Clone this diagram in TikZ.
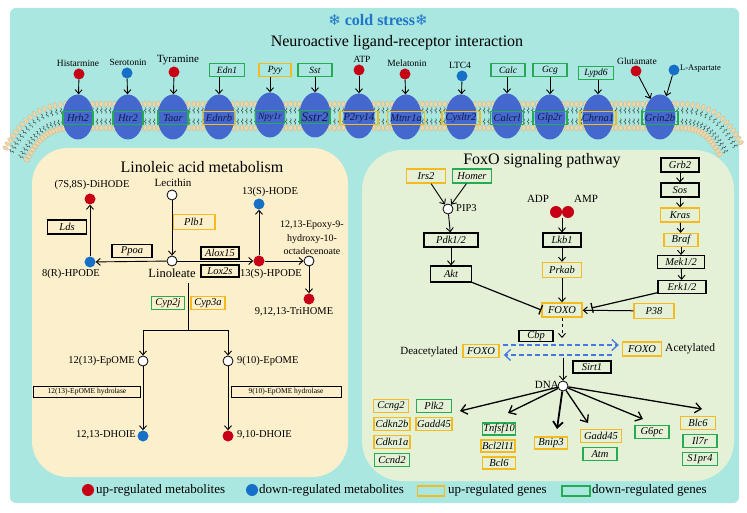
\documentclass[tikz,border=0pt]{standalone}
\usepackage{fontspec}
\setmainfont{Liberation Serif}
\newfontfamily\symfont{DejaVu Sans}
\usetikzlibrary{arrows.meta,decorations.markings,calc,shapes.geometric}
\definecolor{bgcyan}{RGB}{170,231,225}
\definecolor{cream}{RGB}{252,239,203}
\definecolor{palegreen}{RGB}{229,241,215}
\definecolor{upred}{RGB}{200,0,22}
\definecolor{downblue}{RGB}{22,112,200}
\definecolor{recblue}{RGB}{68,104,205}
\definecolor{upor}{RGB}{245,186,30}
\definecolor{dngr}{RGB}{38,170,82}
\definecolor{titleblue}{RGB}{30,118,200}
\definecolor{lipid}{RGB}{238,214,168}
\definecolor{lipidedge}{RGB}{200,175,130}
\definecolor{tailc}{RGB}{60,80,70}
\definecolor{dashblue}{RGB}{70,120,225}
\definecolor{navy}{RGB}{20,25,70}
\tikzset{
 upc/.style={circle,fill=upred,minimum size=11,inner sep=0},
 dnc/.style={circle,fill=downblue,minimum size=11,inner sep=0},
 opc/.style={circle,draw=black,fill=white,line width=0.8pt,minimum size=10,inner sep=0},
 lbl/.style={inner sep=0,font=\fontsize{10}{12}\selectfont},
 slbl/.style={inner sep=0,font=\fontsize{9.5}{11}\selectfont},
 gbase/.style={draw,line width=1.4pt,minimum height=13,minimum width=35,inner sep=1pt,font=\fontsize{10.5}{12}\selectfont\itshape},
 upg/.style={gbase,draw=upor},
 dng/.style={gbase,draw=dngr},
 blk/.style={gbase,draw=black,line width=1.2pt},
 rlab/.style={text=navy},
 receptor/.style={ellipse,fill=recblue,minimum width=31,minimum height=45,inner sep=0},
 arr/.style={-{Straight Barb[length=4pt,width=7pt]},line width=0.9pt},
 barr/.style={-{Straight Barb[length=6pt,width=10pt]},line width=1.3pt},
 inh/.style={-{Bar[width=10pt,line width=1.3pt]},line width=1.2pt},
 bdash/.style={-{Straight Barb[length=6pt,width=11pt]},line width=1.3pt,draw=dashblue,dash pattern=on 5pt off 3pt},
}
\begin{document}
\begin{tikzpicture}[x=1pt,y=-1pt]
\useasboundingbox (0,0) rectangle (747,513);
% backgrounds
\fill[bgcyan,rounded corners=6] (10,8) rectangle (739,503);
\fill[cream,rounded corners=36] (32,148) rectangle (348,477);
\fill[palegreen,rounded corners=40] (362,150) rectangle (734,481);

% titles
\node[font=\bfseries\fontsize{16}{18}\selectfont,text=titleblue] (ttl) at (378,20) {{\symfont\fontsize{15}{17}\selectfont ❄} cold stress{\symfont\fontsize{15}{17}\selectfont ❄}};
\node[font=\fontsize{16}{18}\selectfont] (nlr) at (397,43) {Neuroactive ligand-receptor interaction};

% membrane
\path[decorate,decoration={markings,mark=between positions 0 and 1 step 4.4pt with {
  \draw[tailc,line width=0.5pt] (0pt,8.5pt) -- (0.9pt,7pt) -- (-0.9pt,5.5pt) -- (0.9pt,4pt) -- (0pt,2.5pt);
  \draw[tailc,line width=0.5pt] (0pt,-8.5pt) -- (0.9pt,-7pt) -- (-0.9pt,-5.5pt) -- (0.9pt,-4pt) -- (0pt,-2.5pt);
  \filldraw[fill=lipid,draw=lipidedge,line width=0.2pt] (0pt,12pt) ellipse [x radius=1.8pt,y radius=3.2pt];
  \filldraw[fill=lipid,draw=lipidedge,line width=0.2pt] (0pt,-12pt) ellipse [x radius=1.8pt,y radius=3.2pt];
}}] (16,154) .. controls (32,126) and (46,116) .. (72,116) -- (680,116) .. controls (706,116) and (718,126) .. (732,152);

% receptors
\node[receptor] (rHrh2) at (78,117) {};
\node[receptor] (rHtr2) at (128,117) {};
\node[receptor] (rTaar) at (173,117) {};
\node[receptor] (rEdnrb) at (219,117) {};
\node[receptor] (rNpy1r) at (270,115) {};
\node[receptor] (rSstr2) at (315,115) {};
\node[receptor] (rP2ry14) at (359,116) {};
\node[receptor] (rMtnr1a) at (406,117) {};
\node[receptor] (rCysltr2) at (461,117) {};
\node[receptor] (rCalcrl) at (507,116) {};
\node[receptor] (rGlp2r) at (550,117) {};
\node[receptor] (rChrna1) at (598,117) {};
\node[receptor] (rGrin2b) at (660,117) {};
\node[dng,rlab,minimum width=30] (Hrh2) at (78,118) {Hrh2};
\node[dng,rlab,minimum width=30] (Htr2) at (128,118) {Htr2};
\node[dng,rlab,minimum width=30] (Taar) at (173,118) {Taar};
\node[upg,rlab,minimum width=33] (Ednrb) at (219,118) {Ednrb};
\node[dng,rlab,minimum width=29,font=\fontsize{9.5}{11}\selectfont\itshape] (Npy1r) at (270,117) {Npy1r};
\node[dng,rlab,minimum width=30,font=\fontsize{13}{14}\selectfont\itshape] (Sstr2) at (315,117) {Sstr2};
\node[upg,rlab,minimum width=38] (P2ry14) at (359,118) {P2ry14};
\node[upg,rlab,minimum width=37] (Mtnr1a) at (406,118) {Mtnr1a};
\node[upg,rlab,minimum width=38] (Cysltr2) at (461,118) {Cysltr2};
\node[dng,rlab,minimum width=33] (Calcrl) at (507,118) {Calcrl};
\node[dng,rlab,minimum width=34] (Glp2r) at (550,118) {Glp2r};
\node[upg,rlab,minimum width=36] (Chrna1) at (598,118) {Chrna1};
\node[dng,rlab,minimum width=36] (Grin2b) at (660,118) {Grin2b};

% ligands
\node[upc] (lHis) at (79,74) {};
\node[slbl] (tHis) at (78,63) {Histarmine};
\node[dnc] (lSer) at (127,73) {};
\node[slbl] (tSer) at (128,62) {Serotonin};
\node[upc] (lTyr) at (174,72) {};
\node[lbl,font=\fontsize{11}{12}\selectfont] (tTyr) at (178,60) {Tyramine};
\node[dng,minimum width=35,minimum height=13,font=\fontsize{9.5}{11}\selectfont\itshape] (Edn1) at (227,70) {Edn1};
\node[upg,minimum width=32,minimum height=13,font=\fontsize{9.5}{11}\selectfont\itshape] (Pyy) at (275,70) {Pyy};
\node[dng,minimum width=34,minimum height=13,font=\fontsize{9.5}{11}\selectfont\itshape] (Sst) at (315,70) {Sst};
\node[upc] (lATP) at (359,70) {};
\node[slbl] (tATP) at (362,59) {ATP};
\node[upc] (lMel) at (405,74) {};
\node[slbl] (tMel) at (407,63) {Melatonin};
\node[dnc] (lLTC) at (462,76) {};
\node[slbl] (tLTC) at (460,65) {LTC4};
\node[dng,minimum width=34,minimum height=13,font=\fontsize{9.5}{11}\selectfont\itshape] (Calc) at (508,70) {Calc};
\node[dng,minimum width=34,minimum height=13,font=\fontsize{9.5}{11}\selectfont\itshape] (Gcg) at (550,70) {Gcg};
\node[dng,minimum width=35,minimum height=13,font=\fontsize{9.5}{11}\selectfont\itshape] (Lypd6) at (596,73) {Lypd6};
\node[upc] (lGlu) at (636,71) {};
\node[slbl] (tGlu) at (637,61) {Glutamate};
\node[dnc] (lAsp) at (674,70) {};
\node[slbl,anchor=west,font=\fontsize{8.5}{10}\selectfont] (tAsp) at (680,69) {L-Aspartate};

\draw[arr] (lHis) -- (rHrh2);
\draw[arr] (lSer) -- (rHtr2);
\draw[arr] (lTyr) -- (rTaar);
\draw[arr] (Edn1.south -| rEdnrb) -- (rEdnrb);
\draw[arr] (Pyy.south -| rNpy1r) -- (rNpy1r);
\draw[arr] (Sst.south -| rSstr2) -- (rSstr2);
\draw[arr] (lATP) -- (rP2ry14);
\draw[arr] (lMel) -- (rMtnr1a);
\draw[arr] (lLTC) -- (rCysltr2);
\draw[arr] (Calc.south -| rCalcrl) -- (rCalcrl);
\draw[arr] (Gcg.south -| rGlp2r) -- (rGlp2r);
\draw[arr] (Lypd6.south -| rChrna1) -- (rChrna1);
\draw[arr] (lGlu) -- (rGrin2b);
\draw[arr] (lAsp) -- (rGrin2b);

% ================= Linoleic acid metabolism
\node[font=\fontsize{16}{18}\selectfont] (tLin) at (202,167) {Linoleic acid metabolism};
\node[lbl,font=\fontsize{10.5}{12}\selectfont] (tDih) at (92,185) {(7S,8S)-DiHODE};
\node[upc] (dih) at (90,199) {};
\node[blk,minimum width=39,minimum height=14] (Lds) at (67,227) {Lds};
\node[dnc] (hp8) at (90,262) {};
\node[lbl,font=\fontsize{10.5}{12}\selectfont] (thp8) at (71,274) {8(R)-HPODE};
\node[lbl,font=\fontsize{11}{12}\selectfont] (tLec) at (173,183) {Lecithin};
\node[opc] (lec) at (172,195) {};
\node[upg,minimum width=42,minimum height=15] (Plb1) at (194,222) {Plb1};
\node[blk,minimum width=40,minimum height=13] (Ppoa) at (132,251) {Ppoa};
\node[opc] (lin) at (172,261) {};
\node[lbl,font=\fontsize{12.5}{14}\selectfont] (tLinol) at (172,273) {Linoleate};
\node[blk,minimum width=38,minimum height=12] (Alox15) at (220,253) {Alox15};
\node[blk,minimum width=38,minimum height=12] (Lox2s) at (220,271) {Lox2s};
\node[upc] (hp13) at (259,261) {};
\node[lbl,font=\fontsize{10.5}{12}\selectfont] (thp13) at (271,274) {13(S)-HPODE};
\node[dnc] (hode) at (259,204) {};
\node[lbl,font=\fontsize{10.5}{12}\selectfont] (thode) at (270,192) {13(S)-HODE};
\node[opc] (epx) at (309,261) {};
\node[lbl,align=center,font=\fontsize{10}{13.5}\selectfont] (tepx) at (312,238) {12,13-Epoxy-9-\\hydroxy-10-\\octadecenoate};
\node[upc] (tri) at (309,299) {};
\node[lbl,font=\fontsize{10.5}{12}\selectfont] (ttri) at (294,312) {9,12,13-TriHOME};
\node[dng,minimum width=33,minimum height=13] (Cyp2j) at (168,303) {Cyp2j};
\node[upg,minimum width=34,minimum height=13] (Cyp3a) at (208,303) {Cyp3a};
\coordinate (lv0) at (188,283);
\coordinate (lv1) at (188,330);
\coordinate (lbL) at (143,330);
\coordinate (lbR) at (228,330);
\node[opc] (ep12) at (143,361) {};
\node[opc] (ep9) at (228,361) {};
\node[lbl,font=\fontsize{10.5}{12}\selectfont,anchor=east] (tep12) at (135,361) {12(13)-EpOME};
\node[lbl,font=\fontsize{10.5}{12}\selectfont,anchor=west] (tep9) at (237,361) {9(10)-EpOME};
\node[gbase,draw=black,line width=1pt,minimum width=107,minimum height=11,font=\fontsize{7.5}{8}\selectfont] (hyd12) at (87,392) {12(13)-EpOME hydrolase};
\node[gbase,draw=black,line width=1pt,minimum width=110,minimum height=11,font=\fontsize{7.5}{8}\selectfont] (hyd9) at (286,392) {9(10)-EpOME hydrolase};
\node[dnc] (dh12) at (143,436) {};
\node[upc] (dh9) at (228,436) {};
\node[lbl,font=\fontsize{10.5}{12}\selectfont,anchor=east] (tdh12) at (136,435) {12,13-DHOIE};
\node[lbl,font=\fontsize{10.5}{12}\selectfont,anchor=west] (tdh9) at (237,435) {9,10-DHOIE};

\draw[arr] (hp8) -- (dih);
\draw[arr] (lec) -- (lin);
\draw[arr] (lin) -- (hp8);
\draw[arr] (lin) -- (hp13);
\draw[arr] (hp13) -- (hode);
\draw[arr] (hp13) -- (epx);
\draw[arr] (epx) -- (tri);
\draw[line width=0.9pt] (lv0) -- (lv1);
\draw[line width=0.9pt] (lbL) -- (lbR);
\draw[arr] (lbL) -- (ep12);
\draw[arr] (lbR) -- (ep9);
\draw[arr] (ep12) -- (dh12);
\draw[arr] (ep9) -- (dh9);

% ================= FoxO
\node[font=\fontsize{16}{18}\selectfont] (tFox) at (542,161) {FoxO signaling pathway};
\node[upg,minimum width=39,minimum height=14] (Irs2) at (426,176) {Irs2};
\node[dng,minimum width=39,minimum height=14] (Homer) at (472,176) {Homer};
\node[opc] (pip3) at (448,209) {};
\node[lbl,anchor=west,font=\fontsize{10.5}{12}\selectfont] (tpip) at (456,208) {PIP3};
\node[blk,minimum width=54,minimum height=14] (Pdk) at (451,240) {Pdk1/2};
\node[blk,minimum width=41,minimum height=16] (Akt) at (451,274) {Akt};
\node[lbl,font=\fontsize{11}{12}\selectfont] (tADP) at (538,199) {ADP};
\node[lbl,font=\fontsize{11}{12}\selectfont] (tAMP) at (586,199) {AMP};
\node[upc,minimum size=12] (adp) at (556,212) {};
\node[upc,minimum size=12] (amp) at (568,212) {};
\coordinate (pair) at (562,218);
\node[blk,minimum width=38,minimum height=14] (Lkb1) at (562,240) {Lkb1};
\node[upg,minimum width=39,minimum height=15] (Prkab) at (562,270) {Prkab};
\node[upg,minimum width=40,minimum height=14] (FOXO) at (562,310) {FOXO};
\node[blk,minimum width=38,minimum height=14] (Grb2) at (680,165) {Grb2};
\node[blk,minimum width=38,minimum height=14] (Sos) at (680,190) {Sos};
\node[upg,minimum width=39,minimum height=14] (Kras) at (680,215) {Kras};
\node[upg,minimum width=34,minimum height=13] (Braf) at (681,240) {Braf};
\node[blk,minimum width=47,minimum height=13] (Mek) at (681,262) {Mek1/2};
\node[blk,minimum width=48,minimum height=13] (Erk) at (682,287) {Erk1/2};
\node[upg,minimum width=40,minimum height=15] (P38) at (654,311) {P38};
\coordinate (dsh) at (562,338);
\node[blk,minimum width=34,minimum height=11] (Cbp) at (536,336) {Cbp};
\node[upg,minimum width=36,minimum height=13] (deF) at (481,351) {FOXO};
\node[lbl,anchor=east,font=\fontsize{11}{12}\selectfont] (tde) at (458,352) {Deacetylated};
\node[upg,minimum width=39,minimum height=14] (acF) at (642,349) {FOXO};
\node[lbl,anchor=west,font=\fontsize{11.5}{12}\selectfont] (tac) at (665,349) {Acetylated};
\node[blk,minimum width=38,minimum height=12] (Sirt1) at (592,367) {Sirt1};
\coordinate (dn0) at (563,358);
\node[opc] (DNA) at (563,386) {};
\node[lbl,anchor=east,font=\fontsize{11}{12}\selectfont] (tDNA) at (559,385) {DNA};

\node[upg,minimum width=35] (Ccng2) at (391,406) {Ccng2};
\node[upg,minimum width=36] (Cdkn2b) at (392,424) {Cdkn2b};
\node[upg,minimum width=36] (Cdkn1a) at (392,442) {Cdkn1a};
\node[dng,minimum width=35] (Ccnd2) at (392,460) {Ccnd2};
\node[dng,minimum width=35] (Plk2) at (434,406) {Plk2};
\node[upg,minimum width=35] (Gadd45a) at (434,424) {Gadd45};
\node[dng,minimum width=33,minimum height=12] (Tnfsf10) at (499,429) {Tnfsf10};
\node[upg,minimum width=32,minimum height=12] (Bcl2l11) at (498,446) {Bcl2l11};
\node[upg,minimum width=33,minimum height=12] (Bcl6) at (499,463) {Bcl6};
\node[upg,minimum width=33,minimum height=12] (Bnip3) at (551,443) {Bnip3};
\node[upg,minimum width=41,minimum height=13] (Gadd45b) at (601,436) {Gadd45};
\node[dng,minimum width=34,minimum height=13] (Atm) at (600,454) {Atm};
\node[dng,minimum width=34,minimum height=13] (G6pc) at (652,432) {G6pc};
\node[upg,minimum width=35,minimum height=13] (Blc6) at (698,423) {Blc6};
\node[dng,minimum width=34,minimum height=13] (Il7r) at (700,441) {Il7r};
\node[dng,minimum width=35,minimum height=13] (S1pr4) at (700,459) {S1pr4};
\coordinate (t1) at (460,411);
\coordinate (t2) at (508,413);
\coordinate (t3) at (557,429);
\coordinate (t4) at (588,423);
\coordinate (t5) at (643,419);
\coordinate (t6) at (702,409);

\draw[arr] (Irs2) -- (pip3);
\draw[arr] (Homer) -- (pip3);
\draw[arr] (pip3) -- (Pdk);
\draw[arr] (Pdk) -- (Akt);
\draw[arr] (pair) -- (Lkb1);
\draw[arr] (Lkb1) -- (Prkab);
\draw[arr] (Prkab) -- (FOXO);
\draw[arr] (Grb2) -- (Sos);
\draw[arr] (Sos) -- (Kras);
\draw[arr] (Kras) -- (Braf);
\draw[arr] (Braf) -- (Mek);
\draw[arr] (Mek) -- (Erk);
\draw[inh] (Akt) -- (FOXO.west);
\draw[inh,shorten >=9pt] (Erk) -- (FOXO.east);
\draw[arr,line width=1pt] (P38) -- (FOXO);
\draw[arr,dashed] (FOXO) -- (dsh);
\draw[bdash] ($(deF.east)+(3,-6)$) -- ($(acF.west)+(-3,-4)$);
\draw[bdash] ($(acF.west)+(-10,6)$) -- ($(deF.east)+(4,4)$);
\draw[arr] (dn0) -- (DNA);
\draw[barr] (DNA) -- (t1);
\draw[barr] (DNA) -- (t2);
\draw[barr,line width=1.8pt] (DNA) -- (t3);
\draw[barr] (DNA) -- (t4);
\draw[barr] (DNA) -- (t5);
\draw[barr] (DNA) -- (t6);

% ================= legend
\node[upc,minimum size=12] (lgUp) at (88,490) {};
\node[lbl,anchor=west,font=\fontsize{13}{14}\selectfont] (lgUpT) at (96,490) {up-regulated metabolites};
\node[dnc,minimum size=12] (lgDn) at (252,490) {};
\node[lbl,anchor=west,font=\fontsize{13}{14}\selectfont] (lgDnT) at (259,490) {down-regulated metabolites};
\node[draw=upor,line width=1.4pt,minimum width=27,minimum height=10,inner sep=0] (lgUg) at (431,491) {};
\node[lbl,anchor=west,font=\fontsize{13}{14}\selectfont] (lgUgT) at (448,490) {up-regulated genes};
\node[draw=dngr,line width=1.4pt,minimum width=28,minimum height=10,inner sep=0] (lgDg) at (576,491) {};
\node[lbl,anchor=west,font=\fontsize{13}{14}\selectfont] (lgDgT) at (592,490) {down-regulated genes};
\end{tikzpicture}
\end{document}
